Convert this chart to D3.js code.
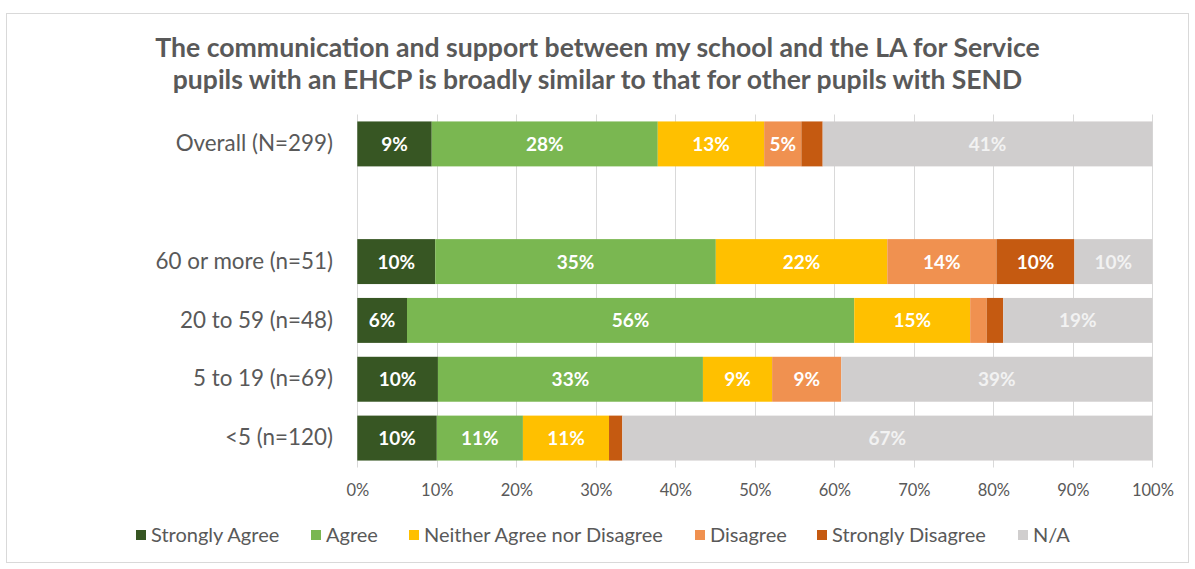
<!DOCTYPE html>
<html>
<head>
<meta charset="utf-8">
<script src="https://cdn.jsdelivr.net/npm/d3@7"></script>
<style>
  html, body { margin: 0; padding: 0; background: #ffffff; }
  svg { display: block; font-family: Lato, "Open Sans", sans-serif; }
</style>
</head>
<body>
<svg id="chart" width="1195" height="569"></svg>
<script>
// Survey responses by number of Service pupils (percent of respondents)
const categories = ["Overall (N=299)", "", "60 or more (n=51)", "20 to 59 (n=48)", "5 to 19 (n=69)", "<5 (n=120)"];
const seriesNames = ["Strongly Agree", "Agree", "Neither Agree nor Disagree", "Disagree", "Strongly Disagree", "N/A"];
const stronglyAgree    = [9.36, 0, 9.80, 6.25, 10.14, 10.00];
const agree            = [28.43, 0, 35.29, 56.25, 33.33, 10.83];
const neither          = [13.38, 0, 21.57, 14.58, 8.70, 10.83];
const disagree         = [4.68, 0, 13.73, 2.08, 8.70, 0];
const stronglyDisagree = [2.68, 0, 9.80, 2.08, 0, 1.67];
const notApplicable    = [41.47, 0, 9.80, 18.75, 39.13, 66.67];
const tickValues = [0, 10, 20, 30, 40, 50, 60, 70, 80, 90, 100];
const titleLines = [
  "The communication and support between my school and the LA for Service",
  "pupils with an EHCP is broadly similar to that for other pupils with SEND"
];

const colors = ["#375623", "#7ab751", "#ffc000", "#f09150", "#c55a11", "#d0cece"];
const seriesValues = [stronglyAgree, agree, neither, disagree, stronglyDisagree, notApplicable];

const svg = d3.select("#chart");

// chart frame
svg.append("rect")
  .attr("x", 6.5).attr("y", 13.5)
  .attr("width", 1182).attr("height", 549)
  .attr("fill", "#ffffff").attr("stroke", "#d9d9d9").attr("stroke-width", 1);

// title, each line sized to its set width
const titleWidths = [885, 850];
svg.append("g").selectAll("text")
  .data(titleLines)
  .join("text")
  .attr("x", 597.5)
  .attr("y", (d, i) => 57 + i * 32)
  .attr("text-anchor", "middle")
  .attr("font-size", 24)
  .attr("font-weight", 700)
  .attr("fill", "#595959")
  .text(d => d)
  .each(function (d, i) {
    const w = this.getComputedTextLength();
    if (w > 0) d3.select(this).attr("font-size", 24 * titleWidths[i] / w);
  });

const margin = { left: 357.3, right: 1152.4, top: 114.5, bottom: 467.5 };

const x = d3.scaleLinear().domain([0, 100]).range([margin.left, margin.right]);
const rowKeys = categories.map((c, i) => i);
const y = d3.scaleBand().domain(rowKeys).range([margin.top, margin.bottom]).paddingInner(0.236).paddingOuter(0.118);

// gridlines
svg.append("g").selectAll("line")
  .data(tickValues)
  .join("line")
  .attr("x1", d => Math.round(x(d)) + 0.5)
  .attr("x2", d => Math.round(x(d)) + 0.5)
  .attr("y1", margin.top)
  .attr("y2", margin.bottom)
  .attr("stroke", "#d9d9d9")
  .attr("stroke-width", 1);

// x axis tick labels
const xAxis = d3.axisBottom(x).tickValues(tickValues).tickFormat(d => d + "%").tickSize(0).tickPadding(0);
const xAxisG = svg.append("g")
  .attr("transform", `translate(0, ${margin.bottom + 17})`)
  .call(xAxis);
xAxisG.select(".domain").remove();
xAxisG.selectAll("text")
  .attr("font-family", "Lato, 'Open Sans', sans-serif")
  .attr("font-size", 16.5)
  .attr("fill", "#595959");

// category labels
const yAxis = d3.axisLeft(y).tickFormat(i => categories[i]).tickSize(0).tickPadding(0);
const yAxisG = svg.append("g")
  .attr("transform", `translate(${333}, 0)`)
  .call(yAxis);
yAxisG.select(".domain").remove();
yAxisG.selectAll("text")
  .attr("font-family", "Lato, 'Open Sans', sans-serif")
  .attr("font-size", 22.4)
  .attr("fill", "#595959");

// stacked segments
const rows = rowKeys.map(i => {
  const r = { key: i };
  seriesNames.forEach((s, k) => { r[s] = seriesValues[k][i]; });
  return r;
});
const stacked = d3.stack().keys(seriesNames)(rows);

const layers = svg.append("g").selectAll("g")
  .data(stacked)
  .join("g")
  .attr("fill", (d, k) => colors[k]);

layers.selectAll("rect")
  .data(d => d.filter(p => p[1] - p[0] > 0))
  .join("rect")
  .attr("x", p => x(p[0]))
  .attr("width", p => x(p[1]) - x(p[0]))
  .attr("y", p => y(p.data.key))
  .attr("height", y.bandwidth());

// data labels
layers.selectAll("text")
  .data(d => d.filter(p => p[1] - p[0] >= 4))
  .join("text")
  .attr("x", p => (x(p[0]) + x(p[1])) / 2)
  .attr("y", p => y(p.data.key) + y.bandwidth() / 2 + 7)
  .attr("text-anchor", "middle")
  .attr("font-size", 19)
  .attr("font-weight", 700)
  .attr("fill", function () { return d3.select(this.parentNode).datum().key === "N/A" ? "#f2f2f2" : "#ffffff"; })
  .text(p => Math.round(p[1] - p[0]) + "%");

// legend
const legendX = [136, 311, 409, 695, 817, 1018];
const legend = svg.append("g").selectAll("g")
  .data(seriesNames)
  .join("g")
  .attr("transform", (d, i) => `translate(${legendX[i]}, 535)`);
legend.append("rect")
  .attr("x", 0).attr("y", -5)
  .attr("width", 10).attr("height", 10)
  .attr("fill", (d, i) => colors[i]);
legend.append("text")
  .attr("x", 15).attr("y", 7)
  .attr("font-size", 20)
  .attr("fill", "#595959")
  .text(d => d);
</script>
</body>
</html>
